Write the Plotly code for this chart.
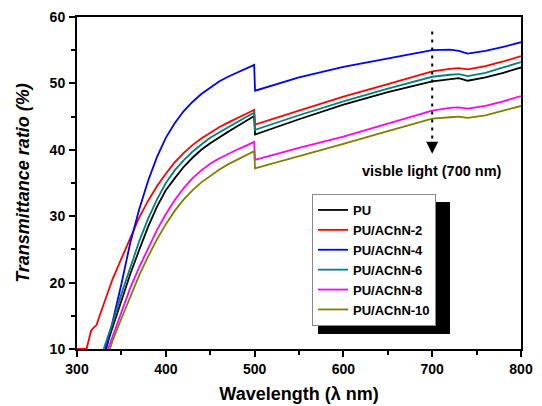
import plotly.graph_objects as go

# ---- data ----
TAIL_WL = [340, 350, 360, 370, 380, 390, 400, 410, 420, 430, 440, 450, 460, 470, 480, 490,
           499.5, 500.5, 550, 600, 650, 700, 720, 730, 740, 760, 780, 800]

series_names = ["PU", "PU/AChN-2", "PU/AChN-4", "PU/AChN-6", "PU/AChN-8", "PU/AChN-10"]

wl_pu = [332] + TAIL_WL
t_pu = [10, 13.2, 17.4, 21.3, 24.9, 28.4, 31.4, 33.9, 35.7, 37.4, 38.8, 40.0, 41.0, 41.9,
        42.7, 43.5, 44.3, 45.1, 42.3,
        44.6, 46.8, 48.7, 50.3, 50.7, 50.8, 50.4, 50.9, 51.6, 52.4]

wl_2 = [300, 310.8, 313, 316, 318, 322, 326, 330, 333] + TAIL_WL
t_2 = [10, 10, 11.2, 12.8, 13.1, 13.6, 15.2, 16.8, 17.9,
       20.5, 23.6, 26.8, 29.8, 32.3, 34.5, 36.4, 38.1, 39.5, 40.7, 41.7, 42.6, 43.4, 44.1,
       44.8, 45.4, 46.0, 43.8,
       45.9, 48.0, 49.9, 51.8, 52.2, 52.3, 52.1, 52.6, 53.3, 54.1]

wl_4 = [333] + TAIL_WL
t_4 = [10, 14.0, 19.8, 26.0, 31.0, 35.3, 38.9, 41.8, 44.0, 45.8, 47.2, 48.4, 49.4, 50.3,
       51.0, 51.6, 52.2, 52.8, 48.9,
       50.9, 52.5, 53.8, 55.0, 55.1, 54.9, 54.5, 54.9, 55.5, 56.2]

wl_6 = [330] + TAIL_WL
t_6 = [10, 13.9, 18.3, 22.4, 26.2, 29.6, 32.5, 35.0, 36.9, 38.4, 39.7, 40.8, 41.8, 42.6,
       43.4, 44.1, 44.9, 45.6, 43.0,
       45.2, 47.3, 49.2, 51.0, 51.3, 51.4, 51.1, 51.6, 52.4, 53.2]

wl_8 = [335] + TAIL_WL
t_8 = [10, 11.9, 15.5, 19.2, 22.3, 25.2, 27.9, 30.3, 32.4, 34.2, 35.7, 36.9, 37.9, 38.7,
       39.4, 40.0, 40.6, 41.2, 38.5,
       40.3, 42.0, 44.0, 45.9, 46.3, 46.4, 46.2, 46.6, 47.3, 48.1]

wl_10 = [337] + TAIL_WL
t_10 = [10, 11.2, 14.6, 18.0, 21.1, 23.9, 26.5, 28.8, 30.8, 32.5, 33.9, 35.1, 36.1, 37.0,
        37.8, 38.5, 39.2, 39.8, 37.2,
        39.1, 40.9, 42.8, 44.7, 44.9, 45.0, 44.8, 45.2, 45.9, 46.6]

x_ticks = [300, 400, 500, 600, 700, 800]
y_ticks = [10, 20, 30, 40, 50, 60]

colors = ["#000000", "#FF0000", "#0000FF", "#008080", "#FF00FF", "#808000"]

FONT = "Arial, Liberation Sans, sans-serif"

# page has an 8px body margin; plot area placed in screen pixels
OFF = 8
L, T, W, H = 77, 17, 444, 332          # plot area in screen pixels
FIG_W, FIG_H = 542 - OFF, 406 - OFF


def px(x):
    return (x - L) / W


def py(y):
    return (T + H - y) / H


fig = go.Figure()
for name, xs, ys, c in zip(series_names,
                           [wl_pu, wl_2, wl_4, wl_6, wl_8, wl_10],
                           [t_pu, t_2, t_4, t_6, t_8, t_10], colors):
    fig.add_trace(go.Scatter(x=xs, y=ys, mode="lines", name=name,
                             line=dict(color=c, width=1.8)))

# dotted marker line at 700 nm with arrow head
fig.add_shape(type="line", x0=700, x1=700, y0=57.8, y1=40.3, xref="x", yref="y",
              line=dict(color="black", width=2, dash="3px,5px"), layer="above")
fig.add_annotation(x=700, y=39.4, ax=700, ay=40.6, axref="x", ayref="y", xref="x", yref="y",
                   text="", showarrow=True, arrowhead=2, arrowsize=1.2, arrowwidth=2,
                   arrowcolor="black")
fig.add_annotation(x=700, y=36.75, xref="x", yref="y", text="visble light (700 nm)",
                   showarrow=False, font=dict(family=FONT, size=14.5, color="black", weight="bold"))

# legend shadow
LEG_LEFT = 312
LEG_TOP = 194
LEG_H = 134
fig.add_shape(type="rect", xref="paper", yref="paper",
              x0=px(LEG_LEFT + 6), x1=px(LEG_LEFT + 138), y0=py(LEG_TOP + LEG_H + 6),
              y1=py(LEG_TOP + 8),
              fillcolor="black", line=dict(width=0), layer="above")

axis_common = dict(showline=True, linecolor="black", linewidth=2, mirror=True,
                   ticks="outside", ticklen=6, tickwidth=2, tickcolor="black",
                   showgrid=False, zeroline=False,
                   tickfont=dict(family=FONT, size=14, color="black", weight="bold"))

fig.update_xaxes(range=[300, 800], tickvals=x_ticks, ticktext=[str(v) for v in x_ticks],
                 minor=dict(dtick=50, ticklen=4, tickwidth=2, tickcolor="black", ticks="outside"),
                 title=dict(text="Wavelength (λ nm)", standoff=12,
                            font=dict(family=FONT, size=18, color="black", weight="bold")),
                 **axis_common)
fig.update_yaxes(range=[10, 60], tickvals=y_ticks, ticktext=[str(v) for v in y_ticks],
                 ticklabelstandoff=1,
                 minor=dict(dtick=5, ticklen=4, tickwidth=2, tickcolor="black", ticks="outside"),
                 title=dict(text="Transmittance ratio (%)", standoff=15,
                            font=dict(family=FONT, size=18, color="black", weight="bold",
                                      style="italic")),
                 **axis_common)

fig.update_layout(
    width=FIG_W, height=FIG_H,
    margin=dict(l=L - OFF, r=FIG_W - (L - OFF) - W, t=T - OFF, b=FIG_H - (T - OFF) - H,
                autoexpand=False),
    paper_bgcolor="white", plot_bgcolor="white",
    showlegend=True,
    legend=dict(x=px(LEG_LEFT), y=py(LEG_TOP), xanchor="left", yanchor="top",
                bgcolor="white", bordercolor="#888888", borderwidth=1,
                font=dict(family=FONT, size=13, color="black", weight="bold"),
                tracegroupgap=0, itemwidth=30),
)

fig.write_html("out.html")
